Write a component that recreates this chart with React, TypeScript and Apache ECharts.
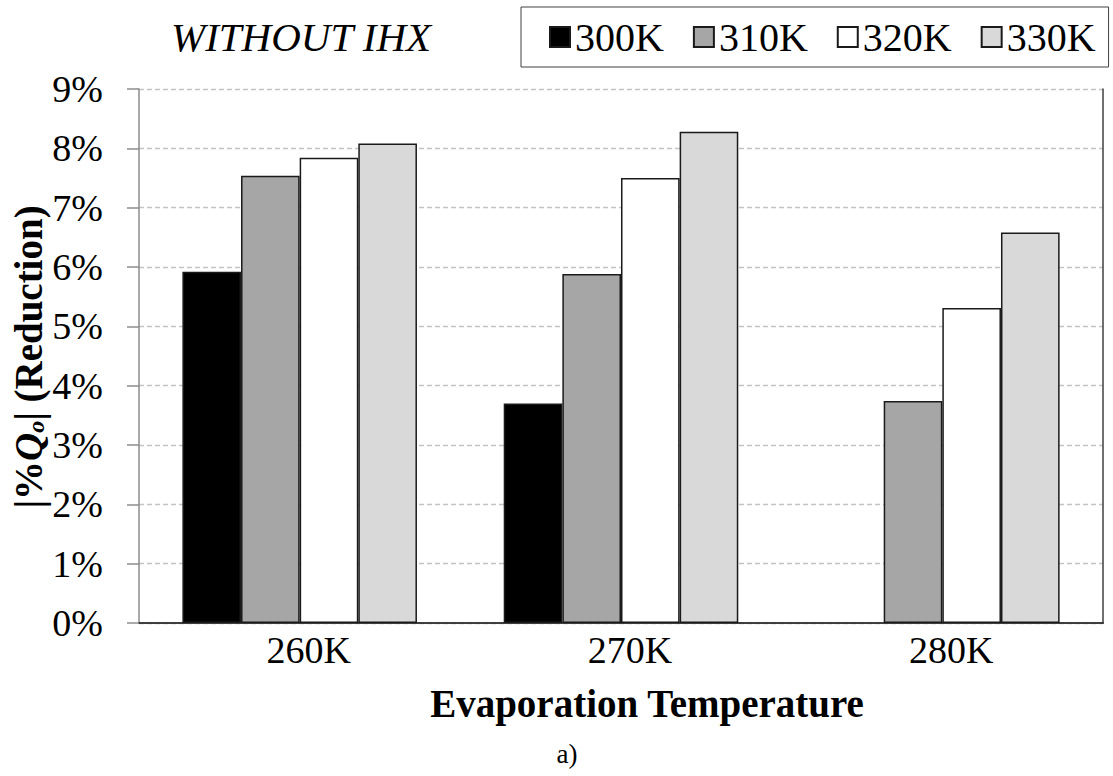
import React, { useEffect, useRef } from "react";
import * as echarts from "echarts";

const categories = ["260K", "270K", "280K"];
const seriesNames = ["300K", "310K", "320K", "330K"];
const s300 = [5.92, 3.7, null];
const s310 = [7.54, 5.88, 3.74];
const s320 = [7.84, 7.5, 5.31];
const s330 = [8.08, 8.28, 6.58];
const seriesValues = [s300, s310, s320, s330];
const seriesColors = ["#000000", "#a6a6a6", "#ffffff", "#d9d9d9"];

const FONT = "'Liberation Serif', 'Times New Roman', serif";

export default function App() {
  const ref = useRef<HTMLDivElement>(null);
  useEffect(() => {
    if (!ref.current) return;
    const chart = echarts.init(ref.current, undefined, { renderer: "svg" });
    const option: any = {
      animation: false,
      backgroundColor: "#ffffff",
      textStyle: { fontFamily: FONT, color: "#000" },
      grid: { left: 139, right: 10, top: 89, bottom: 153 },
      legend: {
        left: 521,
        top: 7,
        data: seriesNames,
        icon: "rect",
        itemWidth: 20,
        itemHeight: 20,
        itemGap: 29,
        borderColor: "#404040",
        borderWidth: 1,
        padding: [10, 13, 10, 28],
        textStyle: { fontFamily: FONT, fontSize: 40, lineHeight: 40, color: "#000" },
      },
      xAxis: [
        {
          type: "category",
          data: categories,
          axisLine: { lineStyle: { color: "#000", width: 1.5 } },
          axisTick: { show: false },
          axisLabel: {
            fontFamily: FONT,
            fontSize: 38,
            color: "#000",
            margin: 8,
            padding: [0, 0, 0, 18],
          },
        },
        {
          type: "category",
          data: categories,
          position: "top",
          axisLine: { show: true, lineStyle: { color: "#404040", width: 1.5 } },
          axisTick: { show: false },
          axisLabel: { show: false },
        },
      ],
      yAxis: [
        {
          type: "value",
          min: 0,
          max: 9,
          interval: 1,
          axisLine: { show: true, lineStyle: { color: "#8c8c8c", width: 1.5 } },
          axisTick: { show: true, length: 12, lineStyle: { color: "#8c8c8c", width: 1.5 } },
          axisLabel: {
            formatter: "{value}%",
            fontFamily: FONT,
            fontSize: 38,
            color: "#000",
            margin: 36,
          },
          splitLine: { show: true, lineStyle: { color: "#c4c4c4", type: [5, 3], width: 1.3 } },
        },
        {
          type: "value",
          min: 0,
          max: 9,
          interval: 1,
          position: "right",
          axisLine: { show: true, lineStyle: { color: "#404040", width: 1.5 } },
          axisTick: { show: false },
          axisLabel: { show: false },
          splitLine: { show: false },
        },
      ],
      series: seriesNames.map((name, i) => ({
        name,
        type: "bar",
        data: seriesValues[i],
        barGap: "0%",
        barCategoryGap: "27%",
        itemStyle: { color: seriesColors[i], borderColor: "#1a1a1a", borderWidth: 1.5 },
      })),
      graphic: [
        {
          type: "text",
          left: 171,
          top: 16,
          style: {
            text: "WITHOUT IHX",
            fontFamily: FONT,
            fontStyle: "italic",
            fontSize: 41,
            fill: "#000",
          },
        },
        {
          type: "text",
          x: 647,
          y: 703,
          style: {
            text: "Evaporation Temperature",
            fontFamily: FONT,
            fontWeight: "bold",
            fontSize: 39,
            fill: "#000",
            align: "center",
            verticalAlign: "middle",
          },
        },
        {
          type: "text",
          x: 567,
          y: 754,
          style: {
            text: "a)",
            fontFamily: FONT,
            fontSize: 27,
            fill: "#000",
            align: "center",
            verticalAlign: "middle",
          },
        },
        {
          type: "text",
          x: 28,
          y: 357,
          rotation: Math.PI / 2,
          style: {
            text: "{b||%}{q|Q}{s|o}{b|| (Reduction)}",
            fontFamily: FONT,
            fill: "#000",
            align: "center",
            verticalAlign: "middle",
            rich: {
              b: { fontFamily: FONT, fontWeight: "bold", fontSize: 39, lineHeight: 40, fill: "#000" },
              q: { fontFamily: FONT, fontWeight: "bold", fontStyle: "italic", fontSize: 39, lineHeight: 40, fill: "#000" },
              s: { fontFamily: FONT, fontWeight: "bold", fontStyle: "italic", fontSize: 24, lineHeight: 24, verticalAlign: "bottom", fill: "#000" },
            },
          },
        },
      ],
    };
    chart.setOption(option);
    return () => chart.dispose();
  }, []);
  return (
    <div
      ref={ref}
      style={{ position: "absolute", left: 0, top: 0, width: 1113, height: 776 }}
    />
  );
}
